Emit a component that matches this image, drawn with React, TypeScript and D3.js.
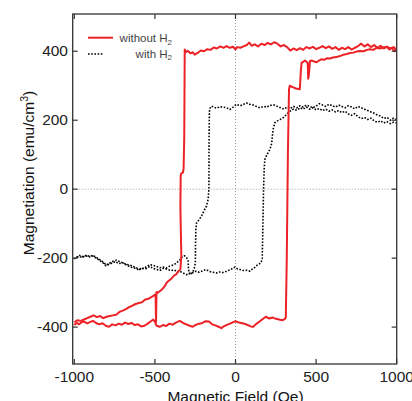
import * as d3 from "d3";

// field (Oe) vs magnetization (emu/cm3)
const redDown: [number, number][] = [
  [1000, 408], [985, 400], [970, 410], [955, 405], [940, 413], [920, 408], [900, 416], [880, 410],
  [860, 418], [840, 412], [820, 420], [800, 414], [780, 422], [760, 415], [740, 410], [720, 405],
  [700, 412], [680, 406], [660, 410], [640, 404], [620, 412], [600, 407], [580, 414], [560, 409],
  [540, 415], [520, 410], [500, 406], [480, 413], [460, 408], [440, 412], [420, 404], [400, 409],
  [380, 403], [360, 408], [340, 402], [320, 412], [300, 418], [280, 414], [260, 422], [240, 426],
  [220, 420], [200, 424], [180, 418], [160, 422], [140, 414], [120, 420], [100, 416], [85, 425],
  [70, 418], [50, 414], [30, 410], [10, 412], [0, 405], [-15, 413], [-35, 410], [-55, 415],
  [-75, 410], [-95, 414], [-115, 408], [-135, 411], [-155, 404], [-175, 406], [-195, 400],
  [-215, 402], [-235, 395], [-253, 390], [-265, 397], [-280, 394], [-295, 401], [-305, 398],
  [-315, 405], [-318, 150], [-322, 60], [-326, 48], [-336, 46], [-340, 40], [-342, -50],
  [-338, -150], [-336, -194], [-342, -233], [-355, -238], [-368, -247], [-380, -250],
  [-395, -258], [-410, -264], [-425, -270], [-440, -282], [-455, -290], [-470, -296],
  [-482, -300], [-490, -298], [-493, -385], [-496, -305], [-505, -308], [-520, -312],
  [-540, -318], [-560, -320], [-580, -328], [-600, -330], [-620, -333], [-640, -338],
  [-660, -342], [-680, -348], [-700, -352], [-720, -356], [-740, -364], [-760, -366],
  [-780, -368], [-800, -370], [-820, -374], [-840, -368], [-860, -371], [-880, -366],
  [-900, -370], [-920, -374], [-940, -378], [-960, -382], [-980, -380], [-1000, -386],
];

const redUp: [number, number][] = [
  [-1000, -394], [-985, -388], [-970, -392], [-955, -386], [-940, -384], [-920, -389], [-900, -385],
  [-884, -382], [-865, -388], [-845, -392], [-825, -389], [-805, -396], [-785, -399], [-765, -392],
  [-745, -395], [-725, -390], [-705, -393], [-685, -387], [-665, -391], [-645, -388], [-625, -394],
  [-605, -392], [-585, -398], [-565, -396], [-545, -390], [-525, -383], [-510, -378], [-500, -384],
  [-490, -396], [-470, -399], [-450, -394], [-430, -397], [-410, -390], [-390, -393], [-370, -387],
  [-346, -382], [-325, -388], [-305, -392], [-285, -396], [-265, -399], [-245, -393], [-225, -390],
  [-205, -388], [-185, -383], [-165, -384], [-145, -392], [-125, -395], [-105, -399], [-87, -403],
  [-70, -397], [-50, -393], [-30, -389], [-10, -385], [0, -383], [15, -386], [35, -388], [55, -390],
  [75, -394], [95, -398], [110, -399], [125, -392], [145, -385], [165, -378], [188, -370],
  [210, -375], [230, -372], [250, -376], [270, -378], [290, -380], [305, -377], [312, -372],
  [318, -200], [325, 100], [332, 290], [337, 300], [355, 296], [375, 292], [399, 290], [405, 340],
  [410, 367], [420, 369], [430, 373], [440, 370], [448, 366], [451, 320], [455, 330], [462, 372],
  [472, 373], [488, 370], [503, 368], [518, 373], [534, 377], [550, 375], [568, 380], [586, 379],
  [604, 382], [625, 383], [648, 386], [670, 390], [690, 392], [710, 395], [730, 396], [750, 399],
  [772, 401], [795, 400], [815, 404], [834, 406], [855, 404], [875, 410], [895, 408], [917, 411],
  [940, 413], [960, 408], [980, 412], [1000, 404],
];

const blackDown: [number, number][] = [
  [1000, 202], [980, 206], [960, 200], [940, 208], [920, 205], [900, 212], [880, 215], [860, 220],
  [840, 224], [820, 228], [800, 232], [780, 236], [760, 240], [740, 233], [720, 238], [700, 242],
  [680, 236], [660, 240], [640, 244], [620, 238], [600, 242], [580, 246], [560, 240], [540, 244],
  [520, 248], [500, 241], [480, 236], [460, 240], [440, 244], [420, 238], [400, 242], [380, 236],
  [360, 240], [340, 234], [320, 238], [300, 232], [280, 236], [260, 240], [240, 244], [213, 243],
  [195, 238], [175, 240], [151, 236], [130, 240], [110, 244], [89, 246], [68, 250], [50, 246],
  [30, 242], [6, 246], [-15, 238], [-35, 231], [-55, 236], [-75, 238], [-98, 239], [-115, 235],
  [-130, 237], [-149, 241], [-158, 235], [-162, 225], [-164, 150], [-165, 0], [-170, -30],
  [-180, -49], [-195, -62], [-211, -78], [-225, -88], [-242, -98], [-246, -117], [-248, -160],
  [-249, -214], [-255, -228], [-263, -238], [-275, -245], [-284, -248], [-292, -232], [-294, -206],
  [-305, -198], [-318, -193], [-330, -196], [-345, -205], [-366, -214], [-385, -220], [-408, -223],
  [-430, -229], [-450, -226], [-470, -228], [-490, -224], [-510, -221], [-532, -219], [-555, -226],
  [-575, -230], [-594, -233], [-615, -228], [-635, -224], [-655, -220], [-675, -218], [-698, -214],
  [-720, -210], [-740, -206], [-760, -209], [-780, -214], [-801, -220], [-820, -212], [-840, -205],
  [-860, -199], [-884, -192], [-905, -195], [-925, -191], [-945, -196], [-967, -192], [-985, -197],
  [-1000, -200],
];

const blackUp: [number, number][] = [
  [-1000, -202], [-985, -198], [-970, -195], [-950, -198], [-930, -193], [-910, -197], [-884, -194],
  [-865, -200], [-845, -206], [-825, -212], [-805, -222], [-785, -218], [-765, -214], [-745, -210],
  [-725, -216], [-698, -214], [-675, -220], [-650, -226], [-625, -229], [-600, -234], [-580, -228],
  [-560, -232], [-532, -224], [-510, -230], [-490, -233], [-470, -236], [-445, -229], [-420, -233],
  [-400, -236], [-380, -234], [-360, -240], [-346, -238], [-325, -243], [-304, -248], [-285, -244],
  [-263, -242], [-245, -238], [-225, -241], [-205, -237], [-184, -233], [-160, -239], [-140, -241],
  [-118, -243], [-100, -240], [-80, -242], [-56, -238], [-30, -233], [-4, -226], [12, -231],
  [27, -233], [50, -236], [70, -235], [89, -238], [110, -230], [125, -225], [137, -219], [150, -216],
  [160, -212], [166, -200], [170, -100], [174, 0], [178, 60], [182, 86], [190, 95], [200, 104],
  [213, 115], [220, 125], [224, 132], [228, 150], [233, 173], [244, 193], [260, 198], [280, 203],
  [296, 207], [315, 216], [337, 226], [360, 232], [380, 229], [400, 236], [420, 232], [440, 238],
  [460, 232], [480, 236], [500, 230], [520, 234], [540, 228], [560, 232], [580, 226], [600, 230],
  [620, 224], [640, 228], [660, 222], [680, 226], [700, 218], [720, 214], [740, 219], [760, 210],
  [780, 205], [800, 208], [820, 202], [840, 206], [860, 198], [880, 194], [900, 198], [920, 192],
  [940, 196], [960, 190], [980, 194], [1000, 192],
];

const xTicks = [-1000, -500, 0, 500, 1000];
const yTicks = [-400, -200, 0, 200, 400];

const W = 412;
const H = 401;
const left = 72.7, right = 396.7, top = 14, bottom = 364;
const RED = "#ec2227";
const AXIS = "#333";
const FONT = "'Liberation Sans', Arial, Helvetica, sans-serif";

export default function App() {
  const x = d3.scaleLinear().domain([-1010, 1000]).range([left, right]);
  const y = d3.scaleLinear().domain([-507, 508]).range([bottom, top]);
  const line = d3
    .line<[number, number]>()
    .x((d) => x(d[0]))
    .y((d) => y(d[1]));
  const tl = 5;

  return (
    <svg
      width={W}
      height={H}
      style={{ position: "absolute", left: 0, top: 0, background: "#fff" }}
      fontFamily={FONT}
    >
      <defs>
        <clipPath id="plot">
          <rect x={left} y={top} width={right - left} height={bottom - top} />
        </clipPath>
      </defs>
      {/* zero lines */}
      <line x1={x(0)} x2={x(0)} y1={top} y2={bottom} stroke="#999" strokeWidth={1} strokeDasharray="1,2" />
      <line x1={left} x2={right} y1={y(0)} y2={y(0)} stroke="#999" strokeWidth={1} strokeDasharray="1,2" />

      <g clipPath="url(#plot)" fill="none" strokeLinejoin="round">
        <path d={line(blackDown) || ""} stroke="#000" strokeWidth={1.6} strokeDasharray="1.6,1.6" />
        <path d={line(blackUp) || ""} stroke="#000" strokeWidth={1.6} strokeDasharray="1.6,1.6" />
        <path d={line(redDown) || ""} stroke={RED} strokeWidth={2} />
        <path d={line(redUp) || ""} stroke={RED} strokeWidth={2} />
      </g>

      {/* frame */}
      <rect x={left} y={top} width={right - left} height={bottom - top} fill="none" stroke={AXIS} strokeWidth={1.3} />
      {xTicks.map((t) => (
        <g key={"x" + t}>
          <line x1={x(t)} x2={x(t)} y1={bottom} y2={bottom - tl} stroke={AXIS} strokeWidth={1.2} />
          <line x1={x(t)} x2={x(t)} y1={top} y2={top + tl} stroke={AXIS} strokeWidth={1.2} />
          <text x={x(t)} y={382} fontSize={15.5} textAnchor="middle" fill="#222">
            {t}
          </text>
        </g>
      ))}
      {yTicks.map((t) => (
        <g key={"y" + t}>
          <line x1={left} x2={left + tl} y1={y(t)} y2={y(t)} stroke={AXIS} strokeWidth={1.2} />
          <line x1={right} x2={right - tl} y1={y(t)} y2={y(t)} stroke={AXIS} strokeWidth={1.2} />
          <text x={68} y={y(t)} dy="0.33em" fontSize={15.5} textAnchor="end" fill="#222">
            {t}
          </text>
        </g>
      ))}

      {/* axis titles */}
      <text x={x(0)} y={402} fontSize={15.5} textAnchor="middle" fill="#111">
        Magnetic Field (Oe)
      </text>
      <text transform={`translate(33.5,173) rotate(-90)`} fontSize={15.5} textAnchor="middle" fill="#111">
        Magnetiation (emu/cm<tspan dy={-6} fontSize={10.5}>3</tspan>
        <tspan dy={6}>)</tspan>
      </text>

      {/* legend */}
      <line x1={88} x2={113} y1={37.7} y2={37.7} stroke={RED} strokeWidth={2} />
      <line x1={88} x2={103} y1={54} y2={54} stroke="#000" strokeWidth={1.6} strokeDasharray="1.6,1.6" />
      <text x={172} y={42} fontSize={11.5} textAnchor="end" fill="#444">
        without H<tspan dy={2.5} fontSize={8}>2</tspan>
      </text>
      <text x={172} y={57.5} fontSize={11.5} textAnchor="end" fill="#444">
        with H<tspan dy={2.5} fontSize={8}>2</tspan>
      </text>
    </svg>
  );
}
